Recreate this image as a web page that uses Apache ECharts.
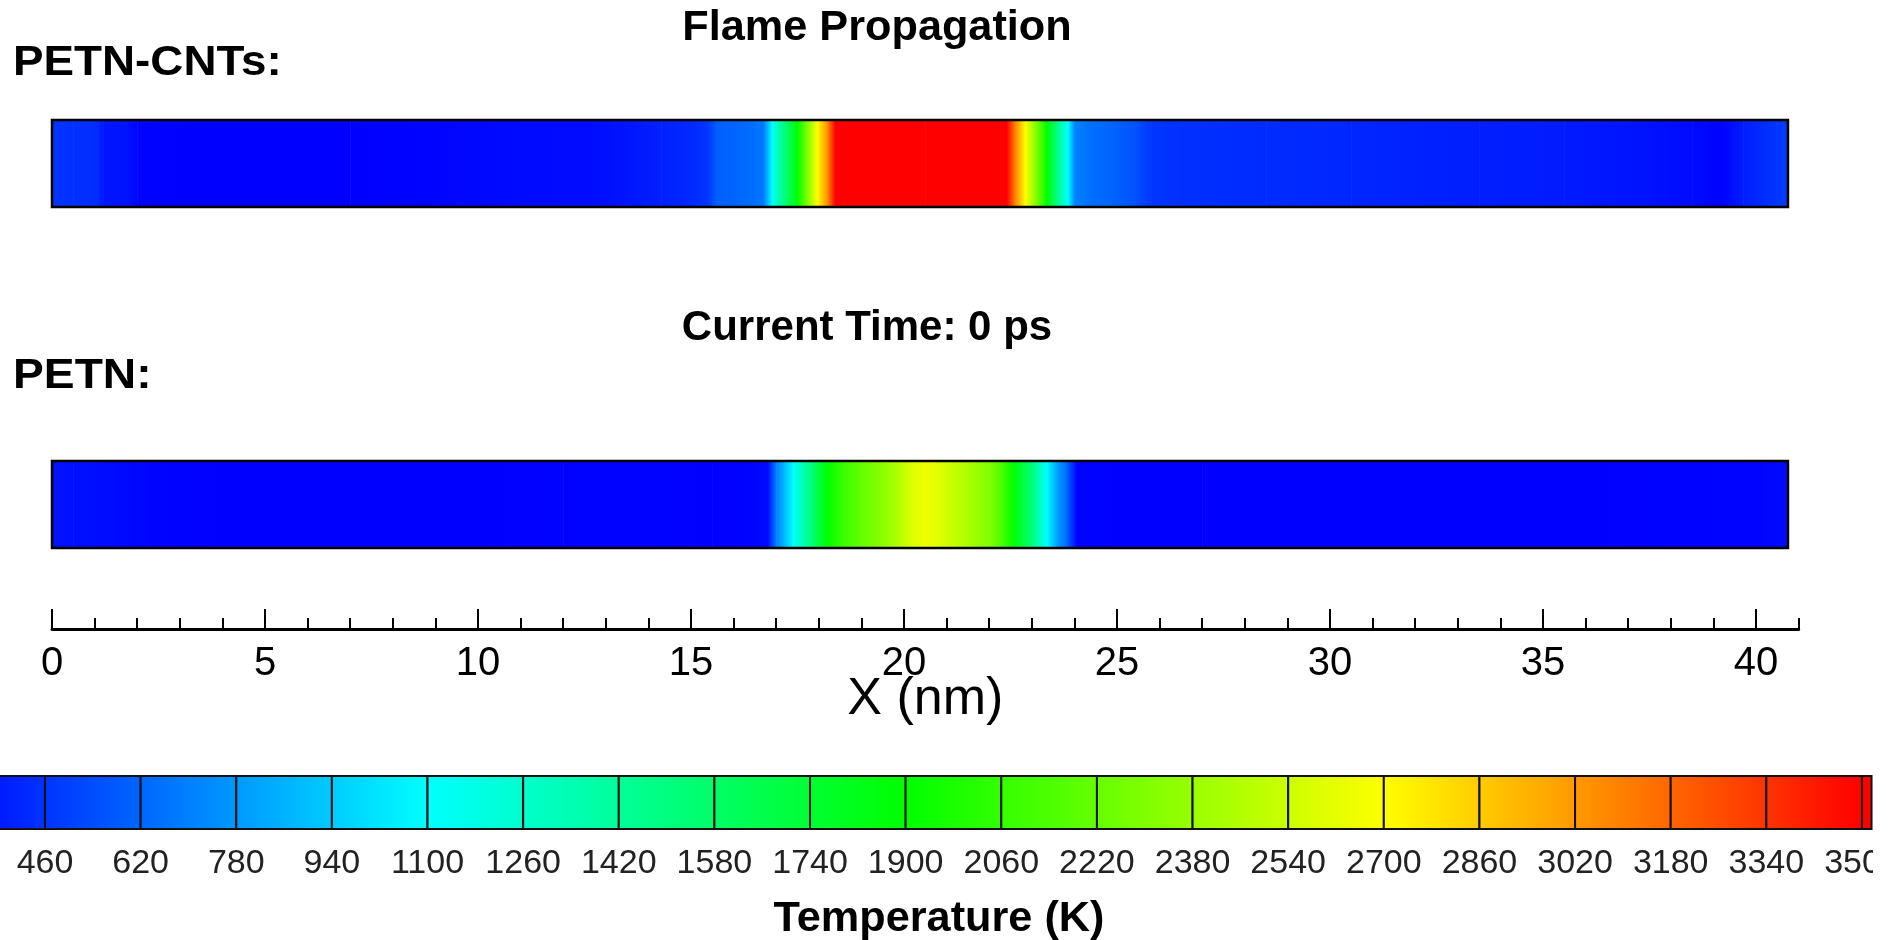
<!DOCTYPE html>
<html>
<head>
<meta charset="utf-8">
<title>Flame Propagation</title>
<script src="https://cdn.jsdelivr.net/npm/echarts@6/dist/echarts.min.js"></script>
<style>
  html, body { margin: 0; padding: 0; background: #fff; overflow: hidden; }
  #chart { width: 1873px; height: 940px; }
</style>
</head>
<body>
<div id="chart"></div>
<script>
// Temperature along the strand, PETN-CNTs composite (x in nm, T in K)
const cntX = [0, 0.5, 1.05, 1.2, 1.76, 2.0, 3.0, 5.0, 7.0, 8.3, 9.5, 11.0, 12.5, 13.4, 14.3, 15.0, 15.4, 15.6, 16.0, 16.4,
              16.7, 16.9, 17.0, 17.5, 17.96, 18.2, 18.38, 18.6, 20.5, 22.2, 22.41, 22.6, 22.84, 23.35, 23.7, 23.85, 24.0, 24.4, 24.8, 25.4,
              25.8, 26.5, 27.5, 28.5, 29.5, 30.5, 31.5, 32.5, 33.5, 34.5, 35.5, 36.5, 37.5, 38.5, 39.2, 39.7, 40.2, 40.75];
const cntT = [470, 455, 440, 370, 360, 310, 300, 300, 300, 305, 320, 330, 335, 360, 400, 430, 470, 600, 615, 640,
              680, 1100, 1270, 1900, 2700, 3060, 3500, 3620, 3680, 3620, 3500, 3100, 2700, 1900, 1300, 1100, 710, 645, 620, 560,
              470, 450, 440, 435, 430, 420, 410, 400, 395, 390, 380, 370, 355, 330, 305, 390, 440, 490];

// Temperature along the strand, neat PETN
const petnX = [0, 0.5, 1.0, 1.5, 2.5, 4.0, 6.0, 8.0, 10.0, 12.0, 14.0, 15.5, 16.4, 16.8, 17.0, 17.2, 17.4, 17.56, 17.9, 18.2,
               18.6, 19.0, 19.4, 19.8, 20.2, 20.5, 20.8, 21.1, 21.5, 22.0, 22.3, 22.56, 22.8, 23.0, 23.35, 23.6, 23.8, 24.05, 25.0, 27.0,
               30.0, 33.0, 36.0, 38.0, 40.0, 40.75];
const petnT = [360, 350, 340, 330, 310, 300, 300, 300, 300, 305, 305, 300, 310, 330, 700, 900, 1100, 1270, 1600, 1900,
               2090, 2215, 2310, 2430, 2600, 2650, 2600, 2530, 2430, 2310, 2120, 1900, 1700, 1520, 1100, 800, 645, 310, 300, 300,
               300, 300, 300, 305, 310, 330];

// Contour levels of the temperature legend (K) and where the legend strip ends
const legendLevels = [300, 460, 620, 780, 940, 1100, 1260, 1420, 1580, 1740, 1900, 2060, 2220, 2380, 2540, 2700, 2860, 3020, 3180, 3340, 3500];
const legendEnd = 3516;

// Rainbow colour map knots
const mapT = [300, 1100, 1900, 2700, 3500];
const mapRGB = [[0, 0, 255], [0, 255, 255], [0, 255, 0], [255, 255, 0], [255, 0, 0]];

// X axis extent (nm)
const xAxisMax = 41;
const xMajorMax = 40;
const xMajorStep = 5;
const xMinorStep = 1;

const FONT = '"Liberation Sans", Arial, Helvetica, sans-serif';
const PX_PER_NM = 42.6;
const AXIS_LEFT = 52;

function colorAt(t) {
  if (t <= mapT[0]) return rgb(mapRGB[0]);
  if (t >= mapT[mapT.length - 1]) return rgb(mapRGB[mapRGB.length - 1]);
  for (let i = 0; i < mapT.length - 1; i++) {
    if (t <= mapT[i + 1]) {
      const f = (t - mapT[i]) / (mapT[i + 1] - mapT[i]);
      const a = mapRGB[i], b = mapRGB[i + 1];
      return rgb([a[0] + (b[0] - a[0]) * f, a[1] + (b[1] - a[1]) * f, a[2] + (b[2] - a[2]) * f]);
    }
  }
}
function rgb(c) {
  return 'rgb(' + Math.round(c[0]) + ',' + Math.round(c[1]) + ',' + Math.round(c[2]) + ')';
}

// Gradient stops for a linear temperature ramp t0 -> t1, exact at every colour-map knot
function rampStops(t0, t1) {
  const stops = [{ offset: 0, color: colorAt(t0) }];
  if (t1 !== t0) {
    const lo = Math.min(t0, t1), hi = Math.max(t0, t1);
    const inner = [];
    mapT.forEach(function (k) {
      if (k > lo && k < hi) inner.push({ offset: (k - t0) / (t1 - t0), color: colorAt(k) });
    });
    inner.sort(function (a, b) { return a.offset - b.offset; });
    stops.push.apply(stops, inner);
  }
  stops.push({ offset: 1, color: colorAt(t1) });
  return stops;
}

function segments(xs, ts) {
  const out = [];
  for (let i = 0; i < xs.length - 1; i++) out.push([xs[i], xs[i + 1], ts[i], ts[i + 1]]);
  return out;
}

function rampItem(params, api) {
  const x0 = api.value(0), x1 = api.value(1);
  const p0 = api.coord([x0, 1]);
  const p1 = api.coord([x1, 0]);
  return {
    type: 'rect',
    shape: { x: p0[0], y: p0[1], width: p1[0] - p0[0] + 0.6, height: p1[1] - p0[1] },
    style: { fill: new echarts.graphic.LinearGradient(0, 0, 1, 0, rampStops(api.value(2), api.value(3))), stroke: null }
  };
}

function frameItem(params, api) {
  const p0 = api.coord([api.value(0), 1]);
  const p1 = api.coord([api.value(1), 0]);
  return {
    type: 'rect',
    shape: { x: p0[0], y: p0[1], width: p1[0] - p0[0], height: p1[1] - p0[1] },
    style: { fill: null, stroke: '#000', lineWidth: 2.5 }
  };
}

function legendItem(params, api) {
  const lo = api.value(0), hi = api.value(1);
  const p0 = api.coord([lo, 1]);
  const p1 = api.coord([hi, 0]);
  return {
    type: 'rect',
    shape: { x: p0[0], y: p0[1], width: p1[0] - p0[0], height: p1[1] - p0[1] },
    style: { fill: new echarts.graphic.LinearGradient(0, 0, 1, 0, rampStops(lo, hi)), stroke: '#111', lineWidth: 2 }
  };
}

const legendCells = [];
for (let i = 0; i < legendLevels.length - 1; i++) legendCells.push([legendLevels[i], legendLevels[i + 1]]);
legendCells.push([legendLevels[legendLevels.length - 1], legendEnd]);

const legendStep = legendLevels[1] - legendLevels[0];
const LEGEND_PX_PER_K = 95.63 / legendStep;
const legendLeft = 45 - (legendLevels[1] - legendLevels[0]) * LEGEND_PX_PER_K;

const gridBase = { containLabel: false, outerBoundsMode: 'none', show: false };
const hiddenX = { type: 'value', min: 0, max: xAxisMax, show: false };
const hiddenY = { type: 'value', min: 0, max: 1, show: false };

function label(text, x, y, align, sx) {
  return {
    type: 'text', x: x, y: y, scaleX: sx || 1,
    style: { text: text, font: 'bold 42px ' + FONT, fill: '#000', align: align, verticalAlign: 'middle', textAlign: align, textVerticalAlign: 'middle' }
  };
}

const chart = echarts.init(document.getElementById('chart'), null, { renderer: 'canvas' });

chart.setOption({
  animation: false,
  backgroundColor: '#fff',
  grid: [
    Object.assign({}, gridBase, { left: AXIS_LEFT, top: 120, width: xAxisMax * PX_PER_NM, height: 87 }),
    Object.assign({}, gridBase, { left: AXIS_LEFT, top: 461, width: xAxisMax * PX_PER_NM, height: 87 }),
    Object.assign({}, gridBase, { left: AXIS_LEFT, top: 580, width: xAxisMax * PX_PER_NM, height: 49 }),
    Object.assign({}, gridBase, { left: AXIS_LEFT, top: 580, width: xMajorMax * PX_PER_NM, height: 49 }),
    Object.assign({}, gridBase, { left: legendLeft, top: 776, width: (legendEnd - legendLevels[0]) * LEGEND_PX_PER_K, height: 53 })
  ],
  xAxis: [
    Object.assign({ gridIndex: 0 }, hiddenX),
    Object.assign({ gridIndex: 1 }, hiddenX),
    {
      gridIndex: 2, type: 'value', min: 0, max: xAxisMax, interval: xMinorStep,
      axisLine: { show: true, lineStyle: { color: '#000', width: 3 } },
      axisTick: { show: true, inside: true, length: 11, lineStyle: { color: '#000', width: 2 } },
      axisLabel: { show: false },
      splitLine: { show: false },
      name: 'X (nm)', nameLocation: 'middle', nameGap: 45,
      nameTextStyle: { fontFamily: FONT, fontSize: 52, color: '#000' }
    },
    {
      gridIndex: 3, type: 'value', min: 0, max: xMajorMax, interval: xMajorStep,
      axisLine: { show: false },
      axisTick: { show: true, inside: true, length: 20, lineStyle: { color: '#000', width: 2 } },
      axisLabel: { show: true, margin: 15, fontFamily: FONT, fontSize: 40, color: '#000', formatter: function (v) { return String(v); } },
      splitLine: { show: false }
    },
    {
      gridIndex: 4, type: 'value', min: legendLevels[0], max: legendEnd, interval: legendStep,
      axisLine: { show: false },
      axisTick: { show: false },
      splitLine: { show: false },
      axisLabel: {
        show: true, margin: 18, fontFamily: FONT, fontSize: 34, color: '#222',
        showMinLabel: false, showMaxLabel: false,
        formatter: function (v) { return String(v); }
      }
    }
  ],
  yAxis: [
    Object.assign({ gridIndex: 0 }, hiddenY),
    Object.assign({ gridIndex: 1 }, hiddenY),
    Object.assign({ gridIndex: 2 }, hiddenY),
    Object.assign({ gridIndex: 3 }, hiddenY),
    Object.assign({ gridIndex: 4 }, hiddenY)
  ],
  series: [
    { name: 'PETN-CNTs', type: 'custom', xAxisIndex: 0, yAxisIndex: 0, renderItem: rampItem, data: segments(cntX, cntT), z: 2 },
    { name: 'PETN-CNTs frame', type: 'custom', xAxisIndex: 0, yAxisIndex: 0, renderItem: frameItem, data: [[cntX[0], cntX[cntX.length - 1]]], z: 3 },
    { name: 'PETN', type: 'custom', xAxisIndex: 1, yAxisIndex: 1, renderItem: rampItem, data: segments(petnX, petnT), z: 2 },
    { name: 'PETN frame', type: 'custom', xAxisIndex: 1, yAxisIndex: 1, renderItem: frameItem, data: [[petnX[0], petnX[petnX.length - 1]]], z: 3 },
    { name: 'Temperature legend', type: 'custom', xAxisIndex: 4, yAxisIndex: 4, renderItem: legendItem, data: legendCells, z: 2 }
  ],
  graphic: [
    label('Flame Propagation', 877, 28, 'center', 1.03),
    label('PETN-CNTs:', 13, 63, 'left', 1.09),
    label('Current Time: 0 ps', 867, 328, 'center'),
    label('PETN:', 13, 376, 'left', 1.1),
    label('Temperature (K)', 939, 919, 'center', 1.03)
  ]
});
</script>
</body>
</html>
